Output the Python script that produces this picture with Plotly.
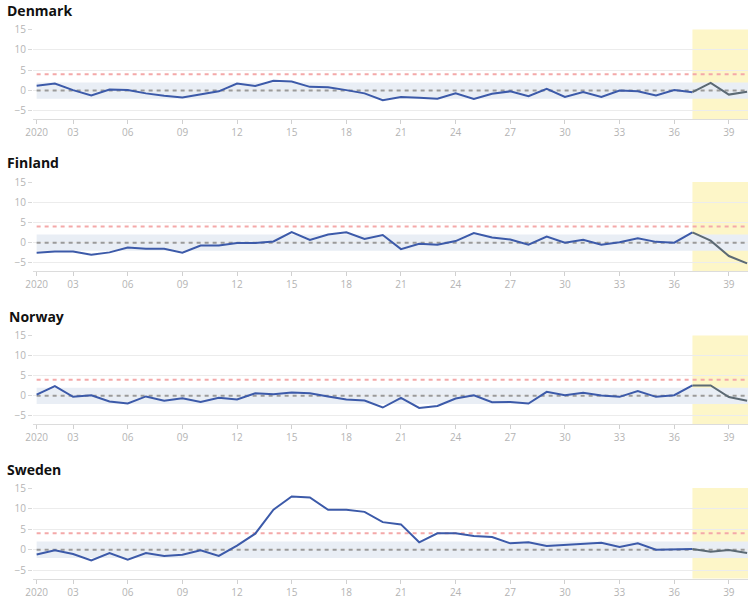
import plotly.graph_objects as go

weeks = list(range(1, 41))
countries = ["Denmark", "Finland", "Norway", "Sweden"]

denmark = [1.2, 1.7, 0.1, -1.2, 0.25, 0.1, -0.7, -1.3, -1.7, -0.9,
           -0.2, 1.7, 1.1, 2.4, 2.2, 0.9, 0.8, 0.1, -0.7, -2.4,
           -1.6, -1.8, -2.0, -0.7, -2.1, -0.8, -0.2, -1.4, 0.4, -1.6,
           -0.4, -1.6, 0.0, -0.2, -1.2, 0.1, -0.4, 1.9, -1.0, -0.3]
finland = [-2.5, -2.2, -2.2, -3.0, -2.4, -1.2, -1.5, -1.5, -2.5, -0.7,
           -0.7, -0.1, -0.1, 0.3, 2.6, 0.7, 2.0, 2.55, 0.9, 1.9,
           -1.6, -0.25, -0.5, 0.4, 2.4, 1.3, 0.8, -0.5, 1.5, 0.0,
           0.7, -0.5, 0.1, 1.1, 0.2, 0.0, 2.55, 0.5, -3.3, -5.1]
norway = [0.3, 2.4, -0.25, 0.15, -1.4, -1.9, -0.15, -1.2, -0.6, -1.5,
          -0.5, -0.9, 0.65, 0.4, 0.8, 0.65, -0.15, -0.9, -1.15, -2.9,
          -0.5, -3.0, -2.5, -0.65, 0.15, -1.6, -1.5, -1.9, 1.0, 0.15,
          0.75, 0.1, -0.25, 1.2, -0.25, 0.15, 2.6, 2.6, -0.3, -1.2]
sweden = [-1.15, -0.15, -1.05, -2.6, -0.8, -2.4, -0.8, -1.5, -1.2, -0.15,
          -1.5, 1.0, 3.9, 9.75, 12.95, 12.7, 9.7, 9.7, 9.2, 6.7,
          6.15, 1.8, 4.0, 4.0, 3.35, 3.1, 1.55, 1.8, 0.9, 1.15,
          1.55, 1.7, 0.65, 1.55, 0.0, 0.15, 0.15, -0.5, -0.1, -0.8]
series = [denmark, finland, norway, sweden]

tick_vals = [1, 3, 6, 9, 12, 15, 18, 21, 24, 27, 30, 33, 36, 39]
tick_text = ["2020", "03", "06", "09", "12", "15", "18", "21", "24", "27", "30", "33", "36", "39"]
y_ticks = [-5, 0, 5, 10, 15]

band_low, band_high = -2, 2
alert_level = 4
highlight_start = 37

W, H = 754, 606
L_M, R_M = 33, 6
# plot tops / bottoms in pixels
panels_px = [(29.5, 119), (182, 271), (335.5, 424), (488, 578.5)]
title_y_px = [10.5, 162.5, 317, 470]
title_x_px = [5, 5, 7, 5]

BLUE = "#3c5aa9"
GREY_LINE = "#5c6a74"
TICK_FONT = dict(family="Open Sans", size=10, color="#b4b4b4")

fig = go.Figure()
layout = dict(width=W, height=H, margin=dict(l=L_M, r=R_M, t=0, b=0, pad=0),
              paper_bgcolor="white", plot_bgcolor="white", showlegend=False,
              shapes=[], annotations=[])

for i, (name, vals) in enumerate(zip(countries, series)):
    k = "" if i == 0 else str(i + 1)
    xa, ya = "x" + k, "y" + k
    top, bot = panels_px[i]
    layout["xaxis" + k] = dict(
        domain=[0, 1], anchor=ya, range=[0.8, 40.05], tickvals=tick_vals, ticktext=tick_text,
        showgrid=False, zeroline=False, showline=True, linecolor="#dcdcdc", linewidth=1,
        ticks="outside", ticklen=4, tickcolor="#d0d0d0", tickfont=TICK_FONT,
        automargin=False, fixedrange=True)
    layout["yaxis" + k] = dict(
        domain=[1 - bot / H, 1 - top / H], anchor=xa, range=[-7, 15], tickvals=y_ticks,
        showgrid=True, gridcolor="#ececec", gridwidth=1, zeroline=False, showline=False,
        ticks="outside", ticklen=4, tickcolor="#d8d8d8", tickfont=TICK_FONT,
        automargin=False, fixedrange=True)
    # band
    layout["shapes"].append(dict(type="rect", xref=xa, yref=ya, x0=1, x1=40.05,
                                 y0=band_low, y1=band_high, fillcolor="#e9eef5",
                                 line=dict(width=0), layer="below"))
    # highlight
    layout["shapes"].append(dict(type="rect", xref=xa, yref=ya + " domain", x0=highlight_start,
                                 x1=40.05, y0=0, y1=1, fillcolor="#fdf6c8",
                                 line=dict(width=0), layer="below"))
    # alert line and zero line
    layout["shapes"].append(dict(type="line", xref=xa, yref=ya, x0=1, x1=40.05,
                                 y0=alert_level, y1=alert_level,
                                 line=dict(color="#f4a9a9", width=2, dash="4px,4px"),
                                 layer="between"))
    layout["shapes"].append(dict(type="line", xref=xa, yref=ya, x0=1, x1=40.05,
                                 y0=0, y1=0,
                                 line=dict(color="#9a9a9a", width=2, dash="4px,4px"),
                                 layer="between"))
    # title
    layout["annotations"].append(dict(text="<b>%s</b>" % name, xref="paper", yref="paper",
                                      x=(title_x_px[i] - L_M) / (W - L_M - R_M),
                                      y=1 - title_y_px[i] / H,
                                      xanchor="left", yanchor="middle", showarrow=False,
                                      font=dict(family="Open Sans", size=14, color="#111111")))
    n = highlight_start
    fig.add_trace(go.Scatter(x=weeks[:n], y=vals[:n], mode="lines", xaxis=xa, yaxis=ya,
                             line=dict(color=BLUE, width=2), hoverinfo="x+y"))
    fig.add_trace(go.Scatter(x=weeks[n - 1:], y=vals[n - 1:], mode="lines", xaxis=xa, yaxis=ya,
                             line=dict(color=GREY_LINE, width=2), hoverinfo="x+y"))

fig.update_layout(**layout)
fig.write_html("out.html", config={"displayModeBar": False},
               post_script="document.body.style.margin='0';document.body.style.overflow='hidden';")
